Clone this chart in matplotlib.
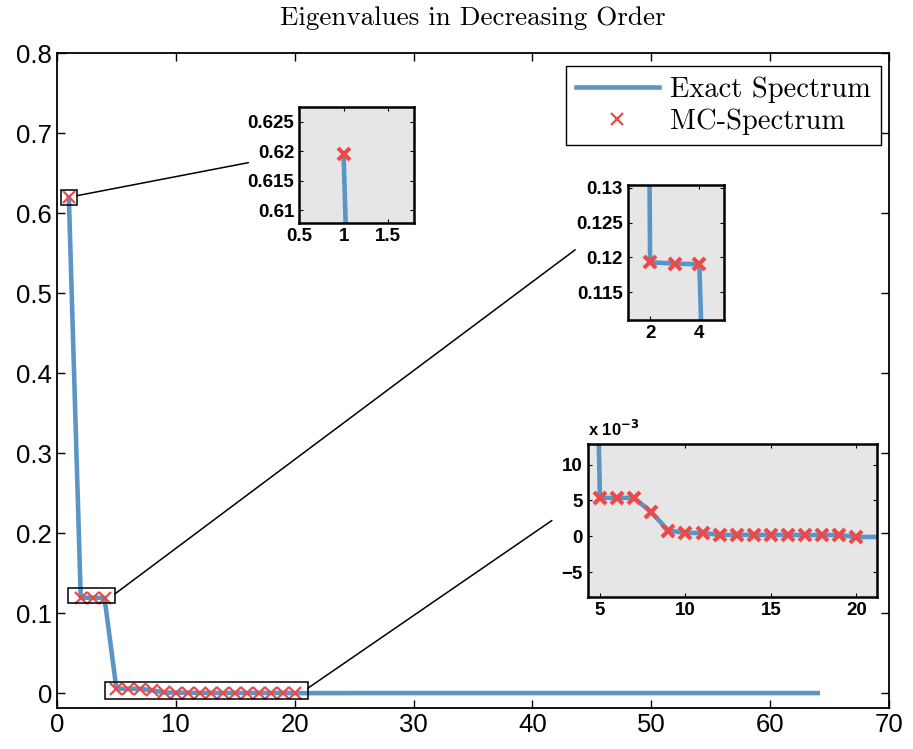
import numpy as np
import matplotlib
matplotlib.use('Agg')
import matplotlib.pyplot as plt
from matplotlib.patches import Rectangle, ConnectionPatch
from matplotlib.ticker import FuncFormatter

plt.rcParams['font.family'] = 'Liberation Sans'

# ---- data ----
exact_idx = list(range(1, 65))
exact_vals = [0.6193, 0.1193, 0.1191, 0.1190, 0.00537, 0.00537, 0.00537, 0.00336,
              0.00079, 0.00047, 0.00047, 0.00019, 0.00019, 0.00019, 0.00019, 0.00019,
              0.00017, 0.00017, 0.00019, -0.00012, -0.0001, -0.0001, -0.0001, -0.0001,
              0.0, 0.0, 0.0, 0.0, 0.0, 0.0, 0.0, 0.0,
              0.0, 0.0, 0.0, 0.0, 0.0, 0.0, 0.0, 0.0,
              0.0, 0.0, 0.0, 0.0, 0.0, 0.0, 0.0, 0.0,
              0.0, 0.0, 0.0, 0.0, 0.0, 0.0, 0.0, 0.0,
              0.0, 0.0, 0.0, 0.0, 0.0, 0.0, 0.0, 0.0]
mc_idx = list(range(1, 21))
mc_vals = [0.6195, 0.1193, 0.1191, 0.1191, 0.00537, 0.00537, 0.00537, 0.00336,
           0.00079, 0.00047, 0.00047, 0.00019, 0.00019, 0.00019, 0.00019, 0.00019,
           0.00017, 0.00017, 0.00019, -0.00014]

blue = '#5b95c6'
red = '#ec4a4a'
gray = '#e6e6e6'

fig = plt.figure(figsize=(9.13, 7.49), dpi=100)
ax = fig.add_axes([0.0624, 0.0547, 0.9113, 0.8745])

ax.plot(exact_idx, exact_vals, color=blue, lw=3.3, label='Exact Spectrum', zorder=2)
ax.plot(mc_idx, mc_vals, ls='none', marker='x', ms=9, mew=1.6, color=red,
        label='MC-Spectrum', zorder=3)
ax.set_xlim(0, 70)
ax.set_ylim(-0.0187, 0.8)
ax.set_xticks(np.arange(0, 71, 10))
ax.set_yticks(np.arange(0, 0.81, 0.1))
ax.set_yticklabels(['0', '0.1', '0.2', '0.3', '0.4', '0.5', '0.6', '0.7', '0.8'])
ax.tick_params(direction='in', top=True, right=True, labelsize=18.5, length=6, width=1)
for s in ax.spines.values():
    s.set_linewidth(1.3)
ax.set_title('Eigenvalues in Decreasing Order', fontfamily='cmr10', fontsize=19.5, pad=20)
leg = ax.legend(loc='upper right', bbox_to_anchor=(0.9904, 0.980), borderaxespad=0,
                prop={'family': 'cmr10', 'size': 20.5}, handlelength=2.9,
                handletextpad=0.4, labelspacing=0.2, borderpad=0.35,
                fancybox=False, edgecolor='black', framealpha=1)
leg.get_frame().set_linewidth(1.0)

# ---- zoom boxes on the main axes ----
boxes = [(0.34, 0.6105, 1.34, 0.0185), (0.93, 0.1124, 3.95, 0.0186), (4.04, -0.0075, 17.06, 0.0212)]
for (bx, by, bw, bh) in boxes:
    ax.add_patch(Rectangle((bx, by), bw, bh, fill=False, edgecolor='black', lw=1.1, zorder=4))


def style_inset(a):
    a.set_facecolor(gray)
    a.tick_params(direction='in', top=True, right=True, labelsize=13.5, length=3, width=0.8)
    for lab in a.get_xticklabels() + a.get_yticklabels():
        lab.set_fontweight('bold')
    for s in a.spines.values():
        s.set_linewidth(1.8)


def draw_inset(a):
    a.plot(exact_idx, exact_vals, color=blue, lw=3.3, zorder=2)
    a.plot(mc_idx, mc_vals, ls='none', marker='x', ms=9, mew=3, color=red, zorder=3)


# inset 1
in1 = fig.add_axes([0.3275, 0.7023, 0.126, 0.1549])
draw_inset(in1)
in1.set_xlim(0.5, 1.79)
in1.set_ylim(0.6078, 0.6275)
in1.set_xticks([0.5, 1, 1.5])
in1.set_xticklabels(['0.5', '1', '1.5'])
in1.set_yticks([0.61, 0.615, 0.62, 0.625])
in1.set_yticklabels(['0.61', '0.615', '0.62', '0.625'])
style_inset(in1)

# inset 2
in2 = fig.add_axes([0.6878, 0.5728, 0.1051, 0.1802])
draw_inset(in2)
in2.set_xlim(1.1, 5.0)
in2.set_ylim(0.111, 0.1304)
in2.set_xticks([2, 4])
in2.set_yticks([0.115, 0.12, 0.125, 0.13])
in2.set_yticklabels(['0.115', '0.12', '0.125', '0.13'])
style_inset(in2)

# inset 3
in3 = fig.add_axes([0.6440, 0.2029, 0.3165, 0.2043])
draw_inset(in3)
in3.set_xlim(4.3, 21.2)
in3.set_ylim(-0.0085, 0.0129)
in3.set_xticks([5, 10, 15, 20])
in3.set_yticks([-0.005, 0, 0.005, 0.01])
in3.yaxis.set_major_formatter(FuncFormatter(
    lambda v, p: '%g' % round(v * 1e3, 6) if v >= 0 else '\u2212%g' % round(-v * 1e3, 6)))
style_inset(in3)
in3.text(0.0, 1.03, r'x 10$^{\mathbf{-3}}$', transform=in3.transAxes, fontsize=12,
         fontweight='bold', va='bottom', ha='left')

# ---- connector lines ----
links = [(in1, (1.68, 0.6217), (-0.44, 0.52)),
         (in2, (4.88, 0.124), (-0.55, 0.52)),
         (in3, (21.1, 0.006), (-0.125, 0.50))]
for a, pa, pb in links:
    con = ConnectionPatch(xyA=pa, coordsA=ax.transData, xyB=pb, coordsB=a.transAxes,
                          color='black', lw=1.1)
    fig.add_artist(con)

fig.savefig('out.png', dpi=100)
